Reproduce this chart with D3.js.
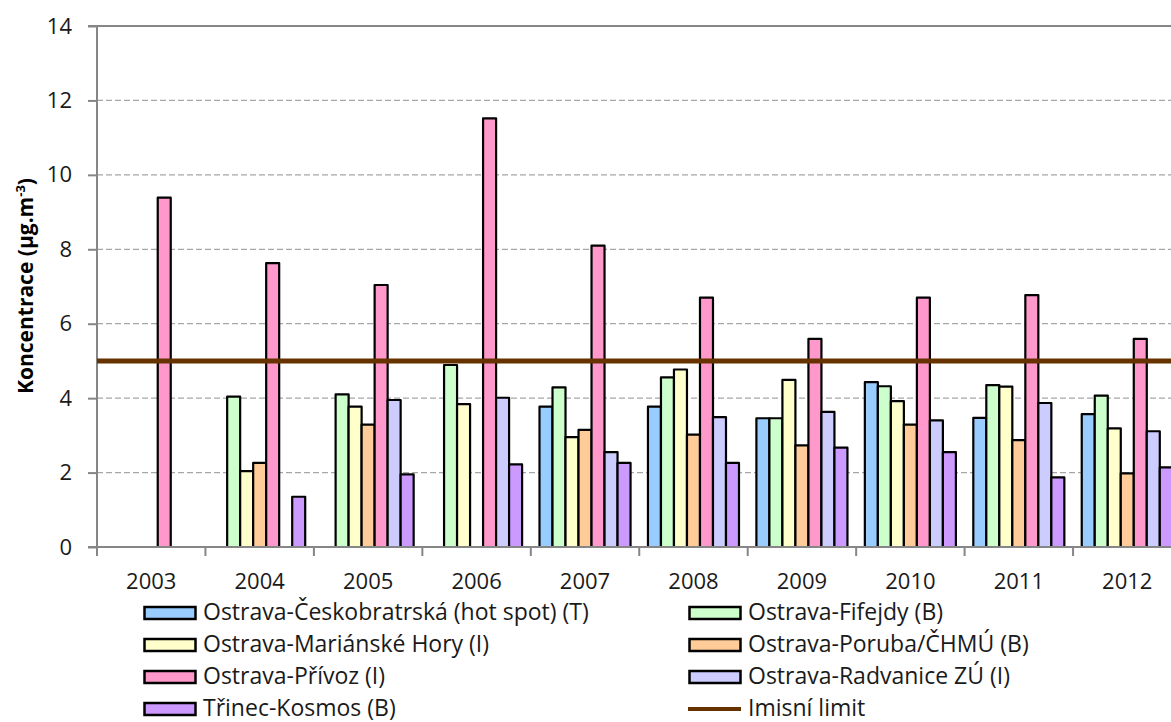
<!DOCTYPE html>
<html>
<head>
<meta charset="utf-8">
<script src="https://cdn.jsdelivr.net/npm/d3@7"></script>
<style>
  html, body { margin: 0; padding: 0; background: #fff; }
  svg { display: block; font-family: "Open Sans", sans-serif; }
</style>
</head>
<body>
<svg id="chart" width="1171" height="722"></svg>
<script>
// Years on the category axis
const years = ["2003","2004","2005","2006","2007","2008","2009","2010","2011","2012"];

// Station names (legend order = bar order inside each year)
const stations = [
  "Ostrava-Českobratrská (hot spot) (T)",
  "Ostrava-Fifejdy (B)",
  "Ostrava-Mariánské Hory (I)",
  "Ostrava-Poruba/ČHMÚ (B)",
  "Ostrava-Přívoz (I)",
  "Ostrava-Radvanice ZÚ (I)",
  "Třinec-Kosmos (B)"
];

// Annual mean concentrations per station, µg.m-3 (null = not measured)
const ceskobratrska = [null, null, null, null, 3.77, 3.77, 3.46, 4.43, 3.47, 3.57];
const fifejdy       = [null, 4.04, 4.10, 4.89, 4.29, 4.56, 3.46, 4.32, 4.35, 4.07];
const marianskeHory = [null, 2.04, 3.77, 3.84, 2.95, 4.77, 4.49, 3.92, 4.31, 3.19];
const poruba        = [null, 2.26, 3.29, null, 3.15, 3.02, 2.73, 3.29, 2.87, 1.98];
const privoz        = [9.39, 7.63, 7.04, 11.52, 8.10, 6.70, 5.59, 6.70, 6.77, 5.59];
const radvanice     = [null, null, 3.95, 4.01, 2.55, 3.49, 3.63, 3.40, 3.87, 3.11];
const trinec        = [null, 1.35, 1.95, 2.22, 2.26, 2.26, 2.67, 2.55, 1.87, 2.14];

const seriesValues = [ceskobratrska, fifejdy, marianskeHory, poruba, privoz, radvanice, trinec];

// Emission limit
const limitLabel = "Imisní limit";
const limitValue = 5;

// Y axis ticks
const yTicks = [0, 2, 4, 6, 8, 10, 12, 14];

const colors = ["#99CCFF", "#CCFFCC", "#FFFFCC", "#FFCC99", "#FF99CC", "#CCCCFF", "#CC99FF"];

const FONT = "'Open Sans', sans-serif";
const svg = d3.select("#chart");

const plot = { left: 97, right: 1181.5, top: 26, bottom: 547 };

const x0 = d3.scaleBand().domain(years).range([plot.left, plot.right]).padding(0);
const gap = 8.7;
const x1 = d3.scaleBand().domain(d3.range(stations.length)).range([gap, x0.bandwidth() - gap]).padding(0);
const y = d3.scaleLinear().domain([0, 14]).range([plot.bottom, plot.top]);

// Dashed gridlines
svg.append("g")
  .selectAll("line")
  .data(yTicks.filter(t => t > 0 && t < 14))
  .join("line")
  .attr("x1", plot.left).attr("x2", plot.right)
  .attr("y1", d => y(d)).attr("y2", d => y(d))
  .attr("stroke", "#A6A6A6").attr("stroke-width", 1.3)
  .attr("stroke-dasharray", "6,3");

// Plot frame (top and right edges)
svg.append("path")
  .attr("d", `M${plot.left},${y(14)}H${plot.right}V${plot.bottom}`)
  .attr("fill", "none").attr("stroke", "#868686").attr("stroke-width", 2);

// Bars
const groups = svg.append("g")
  .selectAll("g")
  .data(years)
  .join("g")
  .attr("transform", d => `translate(${x0(d)},0)`);

groups.selectAll("rect")
  .data((yr, i) => seriesValues.map((vals, s) => ({ s, v: vals[i] })).filter(d => d.v != null))
  .join("rect")
  .attr("x", d => x1(d.s))
  .attr("width", x1.bandwidth())
  .attr("y", d => y(d.v))
  .attr("height", d => y(0) - y(d.v))
  .attr("fill", d => colors[d.s])
  .attr("stroke", "#000")
  .attr("stroke-width", 2.2)
  .attr("stroke-linejoin", "round");

// Y axis
const yAxis = d3.axisLeft(y).tickValues(yTicks).tickSize(9).tickPadding(16).tickFormat(d3.format("d"));
const gy = svg.append("g").attr("transform", `translate(${plot.left},0)`).call(yAxis);
gy.select(".domain").attr("stroke", "#868686").attr("stroke-width", 2).attr("d", `M-9,${y(14)}H0V${y(0)}H-9`);
gy.selectAll(".tick line").attr("stroke", "#868686").attr("stroke-width", 2);
gy.selectAll(".tick text").attr("fill", "#1a1a1a").style("font-size", "22px").style("font-family", FONT);

// X axis (ticks sit on category boundaries)
const xAxis = d3.axisBottom(x0).tickSize(0).tickPadding(26);
const gx = svg.append("g").attr("transform", `translate(0,${plot.bottom})`).call(xAxis);
gx.select(".domain").attr("stroke", "#868686").attr("stroke-width", 2).attr("d", `M${plot.left},0H${plot.right}`);
gx.selectAll(".tick text").attr("fill", "#1a1a1a").style("font-size", "22px").style("font-family", FONT);
gx.append("g")
  .selectAll("line")
  .data(d3.range(years.length + 1))
  .join("line")
  .attr("x1", i => plot.left + i * x0.step())
  .attr("x2", i => plot.left + i * x0.step())
  .attr("y1", 0).attr("y2", 9)
  .attr("stroke", "#868686").attr("stroke-width", 2);

// Emission limit line
svg.append("line")
  .attr("x1", plot.left).attr("x2", plot.right)
  .attr("y1", y(limitValue)).attr("y2", y(limitValue))
  .attr("stroke", "#663300").attr("stroke-width", 5);

// Y axis title
const yTitle = svg.append("text")
  .attr("transform", "translate(33,286) rotate(-90)")
  .attr("text-anchor", "middle")
  .attr("fill", "#000")
  .style("font-size", "21px")
  .style("font-weight", "bold")
  .style("font-family", FONT);
yTitle.append("tspan").text("Koncentrace (µg.m");
yTitle.append("tspan").attr("dy", -8).style("font-size", "13px").text("-3");
yTitle.append("tspan").attr("dy", 8).text(")");

// Legend
const legendItems = stations.map((name, i) => ({ name, type: "bar", color: colors[i] }))
  .concat([{ name: limitLabel, type: "line", color: "#663300" }]);
const legendCols = [143, 688];
const legendRows = [613, 645, 677, 709];

const legend = svg.append("g")
  .selectAll("g")
  .data(legendItems)
  .join("g")
  .attr("transform", (d, i) => `translate(${legendCols[i % 2]},${legendRows[Math.floor(i / 2)]})`);

legend.filter(d => d.type === "bar").append("rect")
  .attr("x", 1.5).attr("y", -6).attr("width", 51).attr("height", 12)
  .attr("fill", d => d.color).attr("stroke", "#000").attr("stroke-width", 2.5);
legend.filter(d => d.type === "line").append("line")
  .attr("x1", 0).attr("x2", 53).attr("y1", 0).attr("y2", 0)
  .attr("stroke", d => d.color).attr("stroke-width", 4);
legend.append("text")
  .attr("x", 60).attr("y", 7)
  .attr("fill", "#1a1a1a")
  .style("font-size", "23px")
  .style("font-family", FONT)
  .text(d => d.name);
</script>
</body>
</html>
